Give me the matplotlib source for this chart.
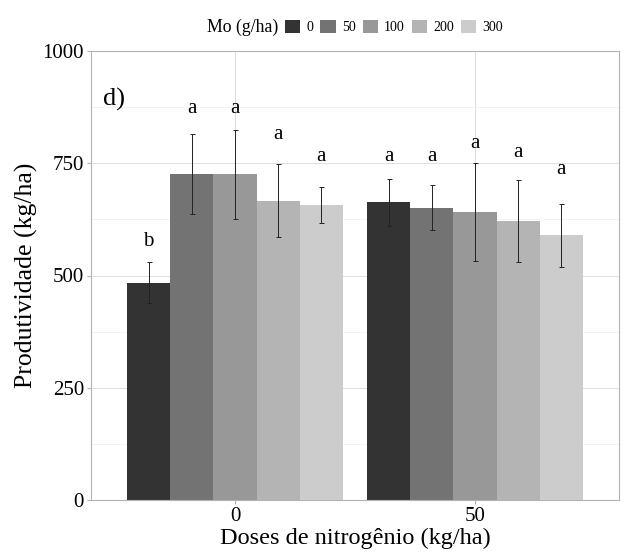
import matplotlib

matplotlib.use("Agg")
import matplotlib.pyplot as plt
import numpy as np
from matplotlib.patches import Patch

plt.rcParams["font.family"] = ["Liberation Serif", "DejaVu Serif"]

# dados (painel d)
doses_n = ["0", "50"]
doses_mo = ["0", "50", "100", "200", "300"]
prod_n0 = [484, 727, 725, 667, 657]
prod_n50 = [663, 651, 641, 621, 590]
erro_n0 = [45, 89, 100, 82, 40]
erro_n50 = [52, 50, 109, 92, 70]
letras_n0 = ["b", "a", "a", "a", "a"]
letras_n50 = ["a", "a", "a", "a", "a"]
altura_letra_n0 = [575, 873, 873, 815, 764]
altura_letra_n50 = [766, 766, 795, 775, 735]
cores = ["#333333", "#737373", "#989898", "#b4b4b4", "#cccccc"]

fig = plt.figure(figsize=(6.24, 5.54), dpi=100)
ax = fig.add_axes([91 / 624, 54 / 554, 528 / 624, 449 / 554])

x = np.arange(1, len(doses_n) + 1)
larg = 0.9 / len(doses_mo)
prod = np.array([prod_n0, prod_n50])
erro = np.array([erro_n0, erro_n50])
letras = [letras_n0, letras_n50]
alt_letra = [altura_letra_n0, altura_letra_n50]

for j, cor in enumerate(cores):
    pos = x - 0.45 + larg * (j + 0.5)
    ax.bar(pos, prod[:, j], larg, color=cor, linewidth=0, zorder=2)
    ax.errorbar(pos, prod[:, j], yerr=erro[:, j], fmt="none", ecolor="#222222",
                elinewidth=0.7, capsize=1.8, capthick=0.7, zorder=3)
    for i in range(len(x)):
        ax.text(pos[i], alt_letra[i][j], letras[i][j], ha="center", va="center",
                fontsize=15)

ax.set_xlim(0.4, 2.6)
ax.set_ylim(0, 1000)
ax.set_xticks(x)
ax.set_xticklabels(doses_n)
ax.set_yticks([0, 250, 500, 750, 1000])
ax.set_yticks([125, 375, 625, 875], minor=True)
ax.grid(True, which="major", color="#dedede", linewidth=0.7, zorder=0)
ax.grid(True, which="minor", axis="y", color="#efefef", linewidth=0.5, zorder=0)
ax.set_axisbelow(True)
for lado in ax.spines.values():
    lado.set_color("#b3b3b3")
    lado.set_linewidth(0.8)
ax.tick_params(which="major", color="#b3b3b3", length=3, width=0.8,
               labelsize=15, labelcolor="black", pad=2)
ax.tick_params(which="minor", length=0)

ax.set_xlabel("Doses de nitrogênio (kg/ha)", fontsize=17.5, labelpad=1)
ax.set_ylabel("Produtividade (kg/ha)", fontsize=18.5, labelpad=3)
ax.text(0.45, 893, "d)", fontsize=19, ha="left", va="center")

# legenda no topo
fig.text(207 / 624, 1 - 27 / 554, "Mo (g/ha)", fontsize=12.8, ha="left", va="center")
alcas = [Patch(facecolor=c, edgecolor="none", label=r) for c, r in zip(cores, doses_mo)]
fig.legend(handles=alcas, loc="center left", bbox_to_anchor=(285 / 624, 1 - 27 / 554),
           ncol=5, frameon=False, fontsize=10, handlelength=1.1, handleheight=1.1,
           handletextpad=0.45, columnspacing=0.5, borderpad=0, borderaxespad=0)

fig.savefig("out.png", dpi=100)
